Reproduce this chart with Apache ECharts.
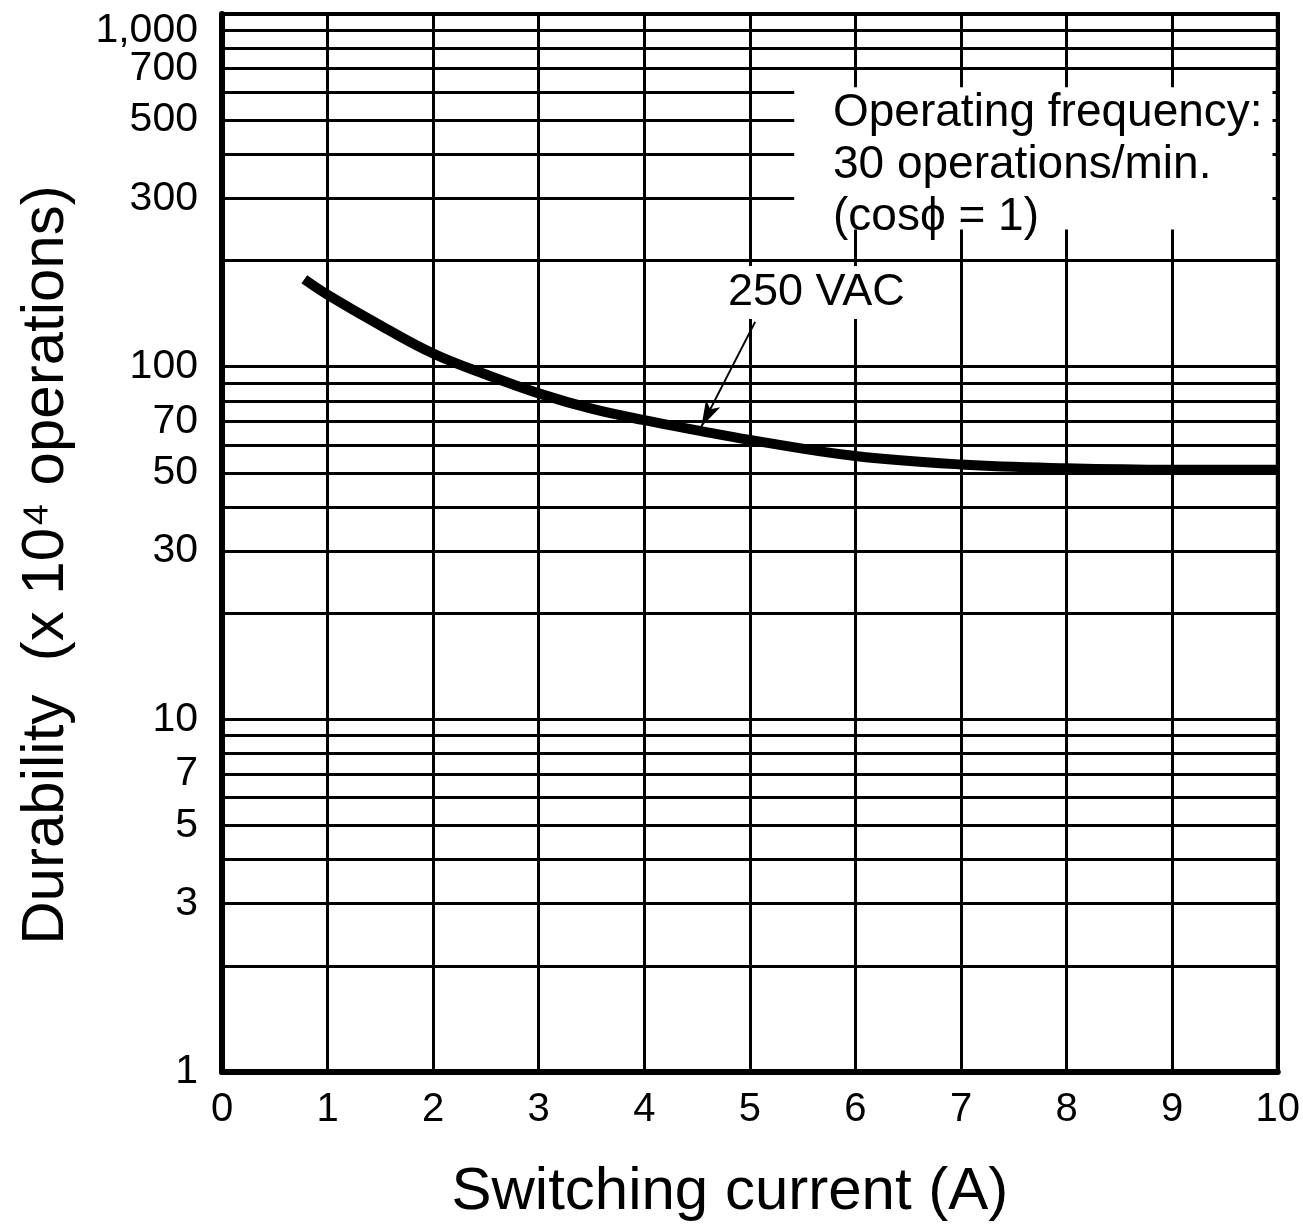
<!DOCTYPE html>
<html>
<head>
<meta charset="utf-8">
<script src="https://cdn.jsdelivr.net/npm/echarts@6/dist/echarts.min.js"></script>
<style>
html,body{margin:0;padding:0;background:#fff;}
#c{width:1303px;height:1227px;}
</style>
</head>
<body>
<div id="c"></div>
<script>
// ---- data ----
const currentA = [0.78, 1, 1.5, 2, 2.5, 3, 3.5, 4, 4.5, 5, 6, 7, 8, 9, 10];
const durability = [177, 160, 131, 109, 95, 84, 76, 70.5, 66, 62, 55.8, 52.8, 51.5, 51, 51];
const xTicks = [0, 1, 2, 3, 4, 5, 6, 7, 8, 9, 10];
const yGridValues = [1,2,3,4,5,6,7,8,9,10,20,30,40,50,60,70,80,90,100,200,300,400,500,600,700,800,900,1000];
const yLabelValues = [1,3,5,7,10,30,50,70,100,300,500,700,1000];
const yLabelTexts = ['1','3','5','7','10','30','50','70','100','300','500','700','1,000'];
const noteBoxX = [5.42, 9.95];
const noteBoxY = [245, 620];
const arrowFrom = [5.05, 134];
const arrowTo = [4.54, 67.6];
const seriesName = '250 VAC';
const noteLines = ['Operating frequency:', '30 operations/min.', '(cos\u03d5 = 1)'];

const SANS = '"Liberation Sans",Arial,Helvetica,sans-serif';

const gridLineData = yGridValues.map(v => {
  const idx = yLabelValues.indexOf(v);
  const item = {yAxis: v};
  if (idx >= 0) {
    item.label = {show: true, formatter: yLabelTexts[idx]};
    if (v === 1000) { item.label.formatter = '\n' + yLabelTexts[idx]; item.label.lineHeight = 34; }
  } else {
    item.label = {show: false};
  }
  return item;
});

const chart = echarts.init(document.getElementById('c'), null, {renderer: 'canvas'});
chart.setOption({
  backgroundColor: '#fff',
  animation: false,
  grid: {left: 222, right: 21, top: 14, bottom: 150, show: true, borderColor: '#000', borderWidth: 4, backgroundColor: 'transparent'},
  xAxis: [{
    type: 'value', min: 0, max: 10, interval: 1,
    name: 'Switching current (A)', nameLocation: 'middle', nameGap: 90,
    nameTextStyle: {fontSize: 60, fontFamily: SANS, color: '#000', padding: [0, 40, 0, 0]},
    axisLine: {show: true, onZero: false, lineStyle: {color: '#000', width: 6}},
    axisTick: {show: false},
    axisLabel: {fontSize: 40, fontFamily: SANS, color: '#000', margin: 18,
      formatter: v => xTicks.indexOf(v) >= 0 ? String(v) : ''},
    splitLine: {show: true, lineStyle: {color: '#000', width: 3}}
  }, {
    type: 'value', min: 0, max: 10, position: 'top', z: 20,
    axisLine: {show: true, onZero: false, lineStyle: {color: '#000', width: 4}},
    axisTick: {show: false}, axisLabel: {show: false}, splitLine: {show: false}
  }],
  yAxis: [{
    type: 'log', logBase: 10, min: 1, max: 1000,
    name: 'Durability  (x 10\u2074 operations)', nameLocation: 'middle', nameGap: 146, nameRotate: 90,
    nameTextStyle: {fontSize: 60, fontFamily: SANS, color: '#000', padding: [0, 44, 0, 0]},
    axisLine: {show: true, onZero: false, lineStyle: {color: '#000', width: 6}},
    axisTick: {show: false},
    axisLabel: {show: false},
    splitLine: {show: false}
  }, {
    type: 'log', logBase: 10, min: 1, max: 1000, position: 'right', z: 20,
    axisLine: {show: true, onZero: false, lineStyle: {color: '#000', width: 4}},
    axisTick: {show: false}, axisLabel: {show: false}, splitLine: {show: false}
  }],
  series: [
    {
      type: 'line', data: [], silent: true, z: 1,
      markLine: {
        silent: true, z: 3, symbol: ['none', 'none'], animation: false,
        lineStyle: {color: '#000', width: 3, type: 'solid'},
        label: {position: 'start', distance: 24, fontSize: 41, fontFamily: SANS, color: '#000'},
        emphasis: {disabled: true},
        data: gridLineData
      }
    },
    {
      type: 'line', data: [], silent: true, z: 4,
      markArea: {
        silent: true, z: 4,
        itemStyle: {color: '#fff', opacity: 1, borderWidth: 0},
        data: [[{xAxis: noteBoxX[0], yAxis: noteBoxY[0]}, {xAxis: noteBoxX[1], yAxis: noteBoxY[1]}]]
      }
    },
    {
      name: seriesName,
      type: 'line', smooth: 0.4, showSymbol: false, symbol: 'none', z: 10,
      lineStyle: {color: '#000', width: 10, cap: 'butt'},
      data: currentA.map((x, i) => [x, durability[i]]),
      markLine: {
        silent: true, z: 11, animation: false,
        symbol: ['none', 'arrow'], symbolSize: [12, 26],
        lineStyle: {color: '#000', width: 2, type: 'solid'},
        label: {show: false},
        data: [[{coord: arrowFrom}, {coord: arrowTo}]]
      }
    }
  ],
  graphic: [
    {
      type: 'text', left: 833, top: 87, z: 20,
      style: {text: noteLines.join('\n'), font: '46px ' + SANS, fill: '#000', lineHeight: 52}
    },
    {
      type: 'text', left: 724, top: 266, z: 20,
      style: {text: seriesName, font: '45px ' + SANS, fill: '#000', backgroundColor: '#fff', padding: [4, 4, 4, 4]}
    }
  ]
});
</script>
</body>
</html>
